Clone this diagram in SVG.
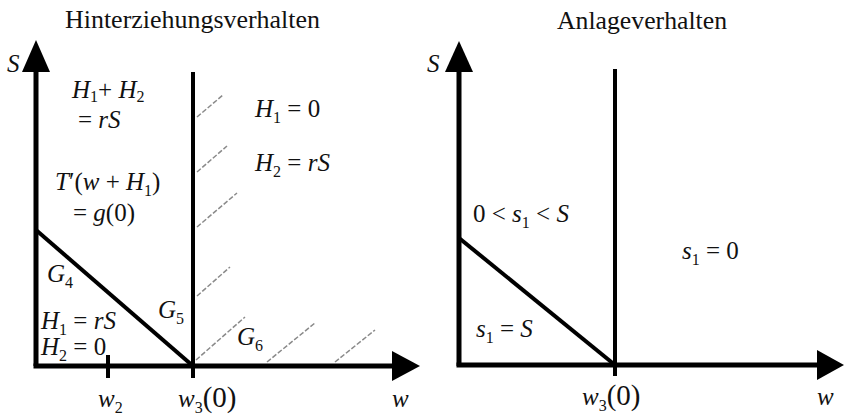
<svg xmlns="http://www.w3.org/2000/svg" width="844" height="418" viewBox="0 0 844 418">
<style>
text{font-family:"Liberation Serif","DejaVu Serif","Times New Roman",serif;fill:#111;font-size:25px}
.i{font-style:italic}
.ax{stroke:#000;stroke-width:5;fill:none}
.ln{stroke:#000;stroke-width:4;fill:none}
.h{stroke:#8a8a8a;stroke-width:1.5;stroke-dasharray:5 2;fill:none}
.s{font-size:16px}
</style>
<rect width="844" height="418" fill="#fff"/>
<g id="left-panel">
  <text x="65" y="28" textLength="255" lengthAdjust="spacingAndGlyphs" style="font-size:26px">Hinterziehungsverhalten</text>
  <g id="left-axes">
    <line class="ax" x1="36" y1="366" x2="36" y2="70"/>
    <polygon points="36,40 22,72 50,72" fill="#000"/>
    <line class="ax" x1="33.5" y1="366" x2="394" y2="366"/>
    <polygon points="420,366 392,351 392,381" fill="#000"/>
    <line class="ln" x1="193" y1="72" x2="193" y2="378"/>
    <line class="ln" x1="108" y1="355" x2="108" y2="378"/>
    <line class="ln" x1="36" y1="230" x2="193" y2="366"/>
  </g>
  <g id="hatch">
    <line class="h" x1="197" y1="117" x2="223" y2="95"/>
    <line class="h" x1="197" y1="172" x2="227" y2="146"/>
    <line class="h" x1="197" y1="227" x2="237" y2="193"/>
    <line class="h" x1="197" y1="296" x2="230" y2="267"/>
    <line class="h" x1="196" y1="360" x2="245" y2="317"/>
    <line class="h" x1="267" y1="362" x2="315" y2="323"/>
    <line class="h" x1="335" y1="362" x2="375" y2="330"/>
  </g>
  <text class="i" x="7" y="72">S</text>
  <text x="72" y="98"><tspan class="i">H</tspan><tspan class="s" dy="4">1</tspan><tspan dy="-4">+ </tspan><tspan class="i">H</tspan><tspan class="s" dy="4">2</tspan></text>
  <text x="78" y="128">= <tspan class="i">rS</tspan></text>
  <text x="55" y="190"><tspan class="i">T</tspan>′(<tspan class="i">w</tspan> + <tspan class="i">H</tspan><tspan class="s" dy="6">1</tspan><tspan dy="-6">)</tspan></text>
  <text x="73" y="221">= <tspan class="i">g</tspan>(0)</text>
  <text x="255" y="117"><tspan class="i">H</tspan><tspan class="s" dy="6">1</tspan><tspan dy="-6"> = 0</tspan></text>
  <text x="255" y="171"><tspan class="i">H</tspan><tspan class="s" dy="6">2</tspan><tspan dy="-6"> = </tspan><tspan class="i">rS</tspan></text>
  <text x="47" y="282"><tspan class="i">G</tspan><tspan class="s" dy="6">4</tspan></text>
  <text x="158" y="318"><tspan class="i">G</tspan><tspan class="s" dy="6">5</tspan></text>
  <text x="237" y="345"><tspan class="i">G</tspan><tspan class="s" dy="6">6</tspan></text>
  <text x="41" y="329"><tspan class="i">H</tspan><tspan class="s" dy="6">1</tspan><tspan dy="-6"> = </tspan><tspan class="i">rS</tspan></text>
  <text x="41" y="355"><tspan class="i">H</tspan><tspan class="s" dy="6">2</tspan><tspan dy="-6"> = 0</tspan></text>
  <text x="98" y="407"><tspan class="i">w</tspan><tspan class="s" dy="6">2</tspan></text>
  <text x="178" y="407"><tspan class="i">w</tspan><tspan class="s" dy="6">3</tspan><tspan dy="-6" style="font-size:29px">(0)</tspan></text>
  <text class="i" x="392" y="407">w</text>
</g>
<g id="right-panel">
  <text x="557" y="29" textLength="170" lengthAdjust="spacingAndGlyphs" style="font-size:26px">Anlageverhalten</text>
  <g id="right-axes">
    <line class="ax" x1="459" y1="366" x2="459" y2="70"/>
    <polygon points="459,41 445,72 473,72" fill="#000"/>
    <line class="ax" x1="456.5" y1="365" x2="819" y2="365"/>
    <polygon points="844,365 817,350 817,380" fill="#000"/>
    <line class="ln" x1="615" y1="69" x2="615" y2="376"/>
    <line class="ln" x1="459" y1="238" x2="615" y2="365"/>
  </g>
  <text class="i" x="427" y="72">S</text>
  <text x="473" y="222">0 &lt; <tspan class="i">s</tspan><tspan class="s" dy="6">1</tspan><tspan dy="-6"> &lt; </tspan><tspan class="i">S</tspan></text>
  <text x="682" y="259"><tspan class="i">s</tspan><tspan class="s" dy="6">1</tspan><tspan dy="-6"> = 0</tspan></text>
  <text x="476" y="337"><tspan class="i">s</tspan><tspan class="s" dy="6">1</tspan><tspan dy="-6"> = </tspan><tspan class="i">S</tspan></text>
  <text x="582" y="405"><tspan class="i">w</tspan><tspan class="s" dy="6">3</tspan><tspan dy="-6" style="font-size:29px">(0)</tspan></text>
  <text class="i" x="817" y="405">w</text>
</g>
</svg>
